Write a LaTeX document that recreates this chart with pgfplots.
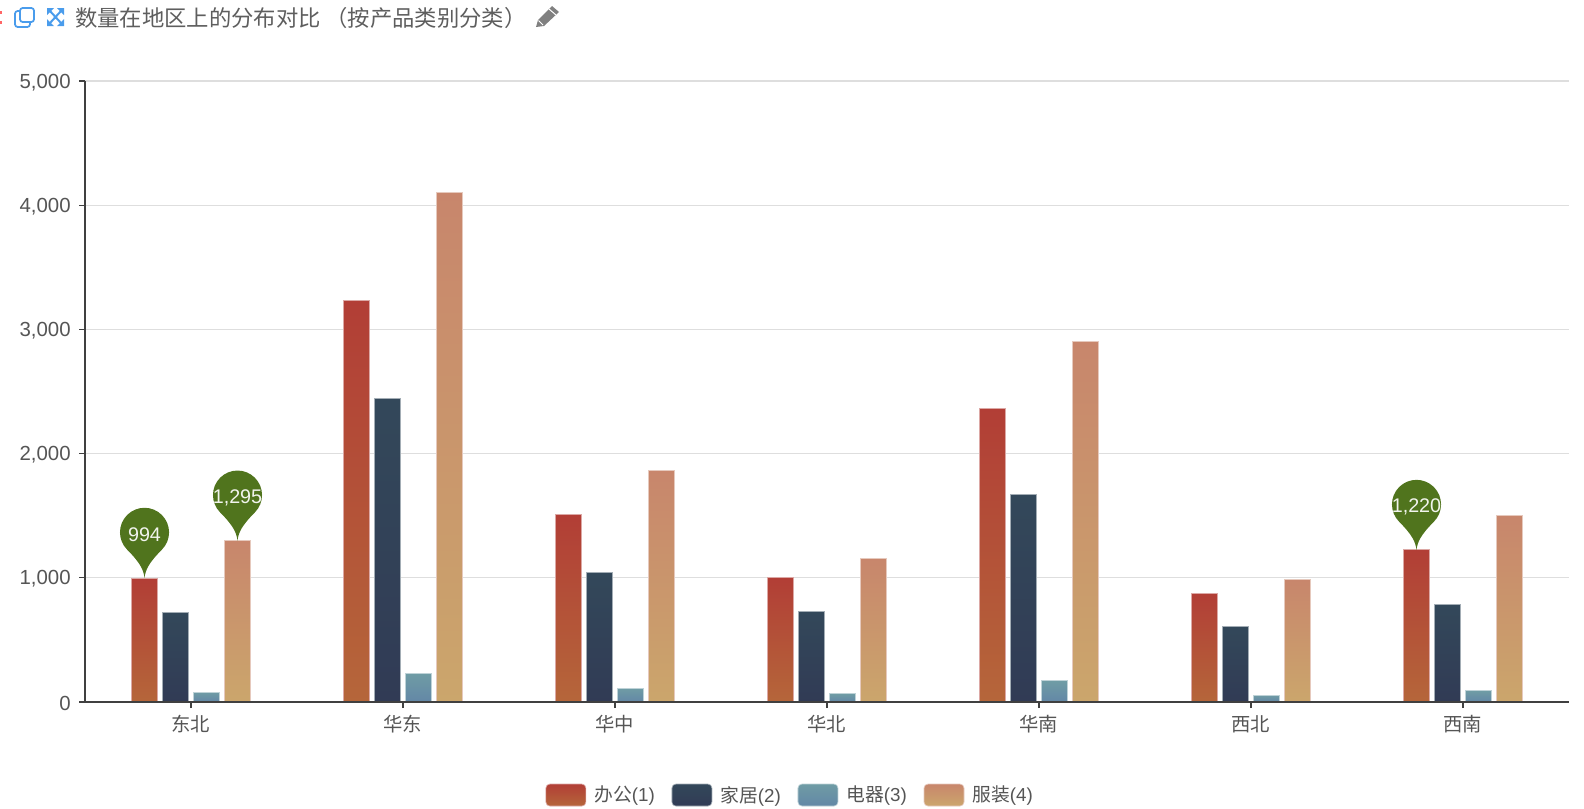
\documentclass[border=0pt]{standalone}
\usepackage{fontspec}
\setmainfont{Liberation Sans}
\newfontfamily\cjk{Noto Sans CJK SC}
\usepackage{pgfplots}
\pgfplotsset{compat=1.18}
\definecolor{redT}{HTML}{B23E36}\definecolor{redB}{HTML}{B5663A}
\definecolor{navT}{HTML}{33485A}\definecolor{navB}{HTML}{313B55}
\definecolor{tealT}{HTML}{6F9CA5}\definecolor{tealB}{HTML}{6387A6}
\definecolor{tanT}{HTML}{C8866C}\definecolor{tanB}{HTML}{CBA66C}
\definecolor{pin}{HTML}{50741D}
\definecolor{txt}{HTML}{555555}
\definecolor{blueic}{HTML}{4A9CEC}
\pgfdeclareplotmark{pinmark}{%
  \pgfpathmoveto{\pgfqpoint{0pt}{0pt}}%
  \pgfpathcurveto{\pgfqpoint{-0.8pt}{6pt}}{\pgfqpoint{-3pt}{11pt}}{\pgfqpoint{-13pt}{21.1pt}}%
  \pgfpatharc{225}{-45}{18.4pt}%
  \pgfpathcurveto{\pgfqpoint{3pt}{11pt}}{\pgfqpoint{0.8pt}{6pt}}{\pgfqpoint{0pt}{0pt}}%
  \pgfpathclose
  \pgfusepathqfill}
\pgfplotsset{
  sA/.style={ybar,bar width=19.9pt,draw=redT!45,line width=.7pt,bar shift=-34.875pt,top color=redT,bottom color=redB},
  sB/.style={ybar,bar width=19.9pt,draw=navT!45,line width=.7pt,bar shift=-11.625pt,top color=navT,bottom color=navB},
  sC/.style={ybar,bar width=19.9pt,draw=tealT!45,line width=.7pt,bar shift=11.625pt,top color=tealT,bottom color=tealB},
  sD/.style={ybar,bar width=19.9pt,draw=tanT!45,line width=.7pt,bar shift=34.875pt,top color=tanT,bottom color=tanB},
  gkey/.style n args={2}{legend image code/.code={%
    \draw[rounded corners=3pt,draw=#1!45,line width=.5pt,top color=#1,bottom color=#2] (0pt,-8.25pt) rectangle (30pt,8.25pt);}},
}
\begin{document}
\begin{tikzpicture}
\useasboundingbox (0,0) rectangle (1188pt,-606pt);
\begin{scope}[x=.75pt,y=-.75pt]
  % header
  \node[anchor=west,inner sep=0pt,text=txt!95] at (75,18) {\fontsize{16.75}{18}\selectfont\cjk 数量在地区上的分布对比\kern3.5pt（按产品类别分类）};
  \fill[red!60] (0,11) rectangle (1.5,14); \fill[red!60] (0,21) rectangle (1.5,24);
  % copy icon
  \draw[blueic,line width=1.3pt,rounded corners=2pt] (20,8) rectangle (34,22);
  \draw[blueic,line width=1.3pt,rounded corners=2pt] (20,11) -- (15,11) -- (15,27) -- (30,27) -- (30,22);
  % expand icon
  \draw[blueic,line width=1.5pt] (50,11) -- (61,23) (61,11) -- (50,23);
  \fill[blueic] (47,8) -- (54,8) -- (47,15) -- cycle;
  \fill[blueic] (64,8) -- (57,8) -- (64,15) -- cycle;
  \fill[blueic] (47,26) -- (54,26) -- (47,19) -- cycle;
  \fill[blueic] (64,26) -- (57,26) -- (64,19) -- cycle;
  % pencil
  \fill[txt!75] (536,27) -- (538,20) -- (552,6) -- (559,12) -- (544,26) -- cycle;
  \draw[white,line width=.7pt] (549,9) -- (556,15) (538.5,20.5) -- (543,25);
\end{scope}
\begin{axis}[
  at={(63.75pt,-526.5pt)},anchor=south west,
  scale only axis,width=1113pt,height=465.75pt,
  xmin=-0.5,xmax=6.5,ymin=0,ymax=5000,
  axis x line*=bottom,axis y line*=left,
  axis line style={draw=black!75,line width=1pt,-},
  ytick={0,1000,2000,3000,4000,5000},
  xtick={0,1,2,3,4,5,6},
  xticklabels={东北,华东,华中,华北,华南,西北,西南},
  x tick label style={font=\fontsize{14.5}{16}\selectfont\cjk,text=txt,yshift=-2pt},
  y tick label style={font=\fontsize{15.3}{16}\selectfont,text=txt,xshift=-2.7pt,yshift=-1pt},
  /pgf/number format/assume math mode=true,
  /pgf/number format/1000 sep={,},
  scaled y ticks=false,
  tick style={draw=black!75,line width=.8pt},
  tickwidth=4.5pt,
  tick align=outside,
  ymajorgrids,
  grid style={draw=black!13,line width=.8pt},
  clip=false,
  legend columns=4,
  legend style={at={(0.475,-0.1498)},anchor=center,draw=none,fill=none,
    font=\fontsize{14.1}{16}\selectfont,text=txt,inner sep=0pt,
    /tikz/every even column/.append style={column sep=11.6pt},
    /tikz/every odd column/.append style={column sep=5pt},
    nodes={inner xsep=1pt,inner ysep=0pt}},
  legend cell align=left,
]
% office
\addplot[sA,gkey={redT}{redB}] coordinates {(0,994)};
\addlegendentry{{\cjk 办公}(1)}
\addplot[sA,forget plot] coordinates {(1,3230)};
\addplot[sA,forget plot] coordinates {(2,1510)};
\addplot[sA,forget plot] coordinates {(3,1000)};
\addplot[sA,forget plot] coordinates {(4,2365)};
\addplot[sA,forget plot] coordinates {(5,875)};
\addplot[sA,forget plot] coordinates {(6,1225)};
% home
\addplot[sB,gkey={navT}{navB}] coordinates {(0,720)};
\addlegendentry{{\cjk 家居}(2)}
\addplot[sB,forget plot] coordinates {(1,2445)};
\addplot[sB,forget plot] coordinates {(2,1045)};
\addplot[sB,forget plot] coordinates {(3,729)};
\addplot[sB,forget plot] coordinates {(4,1670)};
\addplot[sB,forget plot] coordinates {(5,610)};
\addplot[sB,forget plot] coordinates {(6,785)};
% electric
\addplot[sC,gkey={tealT}{tealB}] coordinates {(0,80)};
\addlegendentry{{\cjk 电器}(3)}
\addplot[sC,forget plot] coordinates {(1,230)};
\addplot[sC,forget plot] coordinates {(2,110)};
\addplot[sC,forget plot] coordinates {(3,65)};
\addplot[sC,forget plot] coordinates {(4,172)};
\addplot[sC,forget plot] coordinates {(5,55)};
\addplot[sC,forget plot] coordinates {(6,90)};
% clothing
\addplot[sD,gkey={tanT}{tanB}] coordinates {(0,1300)};
\addlegendentry{{\cjk 服装}(4)}
\addplot[sD,forget plot] coordinates {(1,4100)};
\addplot[sD,forget plot] coordinates {(2,1865)};
\addplot[sD,forget plot] coordinates {(3,1155)};
\addplot[sD,forget plot] coordinates {(4,2900)};
\addplot[sD,forget plot] coordinates {(5,985)};
\addplot[sD,forget plot] coordinates {(6,1500)};
% baseline over the bars
\addplot[forget plot,draw=black!75,line width=1pt] coordinates {(-0.5,0)(6.5,0)};
% pins
\addplot[forget plot,only marks,mark=pinmark,color=pin,
  point meta=explicit symbolic,
  nodes near coords,
  nodes near coords style={anchor=center,yshift=32pt,text=white!92!pin,inner sep=0pt,font=\fontsize{14.8}{16}\selectfont}]
  coordinates {(-0.2193,1000)[994] (0.2193,1300)[{1,295}] (5.7807,1225)[{1,220}]};
\end{axis}
\end{tikzpicture}
\end{document}
